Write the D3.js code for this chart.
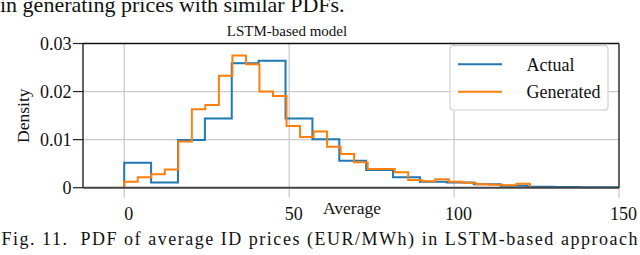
<!DOCTYPE html>
<html>
<head>
<meta charset="utf-8">
<script src="https://cdn.jsdelivr.net/npm/d3@7/dist/d3.min.js"></script>
<style>
  html, body { margin: 0; padding: 0; background: #fff; }
  svg { display: block; }
  text { font-family: "Liberation Serif", "Times New Roman", serif; fill: #111; }
</style>
</head>
<body>
<svg id="chart" width="640" height="255"></svg>
<script>
// ---- data ----
const actualEdges = [0, 8.15, 16.3, 24.45, 32.6, 40.75, 48.9, 57.05, 65.2, 73.35, 81.5,
  89.65, 97.8, 105.95, 114.1, 122.25, 130.4, 138.55, 146.7, 154.85, 163];
const actualDensity = [0.0052, 0.0011, 0.0099, 0.0144, 0.0259, 0.0264, 0.0144, 0.0101,
  0.0056, 0.0037, 0.0022, 0.00125, 0.0011, 0.0007, 0.0004, 0.0002, 0.00015, 0.0001, 0.0001, 0.0001];

const generatedEdges = [0, 4.1, 8.2, 12.3, 16.4, 20.5, 24.6, 28.7, 32.8, 36.9, 41, 45.1,
  49.2, 53.3, 57.4, 61.5, 65.6, 69.7, 73.8, 77.9, 82, 86.1, 90.2, 94.3, 98.4, 102.5,
  106.6, 110.7, 114.8, 118.9, 123];
const generatedDensity = [0.00125, 0.0022, 0.0028, 0.0038, 0.0096, 0.0163, 0.0172, 0.0233,
  0.0275, 0.0257, 0.0200, 0.0191, 0.01285, 0.01056, 0.0117, 0.0085, 0.0070, 0.0053,
  0.0039, 0.0039, 0.0032, 0.0016, 0.00135, 0.00175, 0.00125, 0.00105, 0.0007, 0.0006,
  0.0005, 0.0008];

const xTicks = [0, 50, 100, 150];
const yTicks = [0, 0.01, 0.02, 0.03];
const yTickLabels = ["0", "0.01", "0.02", "0.03"];
const seriesNames = ["Actual", "Generated"];
const titleText = "LSTM-based model";
const xLabel = "Average";
const yLabel = "Density";
const headerText = "in generating prices with similar PDFs.";
const captionText = "Fig. 11.\u00A0\u00A0PDF of average ID prices (EUR/MWh) in LSTM-based approach";

// ---- layout ----
const svg = d3.select("#chart");
const L = 83, R = 619, T = 43.5, B = 187.7;
const x = d3.scaleLinear().domain([-12.5, 150]).range([L, R]);
const y = d3.scaleLinear().domain([0, 0.03]).range([B, T]);
const colors = ["#1f77b4", "#ff7f0e"];

// header (cut-off text from page above)
svg.append("text").attr("x", 0).attr("y", 11.5)
  .attr("font-size", 22).text(headerText);

// grid
const grid = svg.append("g");
grid.selectAll("line.gx").data(xTicks.filter(t => t < 150)).join("line")
  .attr("x1", d => x(d)).attr("x2", d => x(d)).attr("y1", T).attr("y2", B)
  .attr("stroke", "#c9c9c9").attr("stroke-width", 1.2);
grid.selectAll("line.gy").data(yTicks.filter(t => t > 0 && t < 0.03)).join("line")
  .attr("x1", L).attr("x2", R).attr("y1", d => y(d)).attr("y2", d => y(d))
  .attr("stroke", "#c9c9c9").attr("stroke-width", 1.2);

// x ticks (gray, downward)
svg.selectAll("line.xt").data(xTicks).join("line")
  .attr("x1", d => x(d)).attr("x2", d => x(d)).attr("y1", B).attr("y2", B + 10)
  .attr("stroke", "#c9c9c9").attr("stroke-width", 1.2);
svg.selectAll("text.xtl").data(xTicks).join("text")
  .attr("x", d => x(d) + 4.5).attr("y", 220)
  .attr("text-anchor", "middle").attr("font-size", 18).text(d => d);

// y ticks (dark, left)
svg.selectAll("line.yt").data(yTicks).join("line")
  .attr("x1", L - 10).attr("x2", L).attr("y1", d => y(d)).attr("y2", d => y(d))
  .attr("stroke", "#222").attr("stroke-width", 1.2);
svg.selectAll("text.ytl").data(yTicks).join("text")
  .attr("x", 71.5).attr("y", d => y(d)).attr("dy", "0.35em")
  .attr("text-anchor", "end").attr("font-size", 18)
  .text((d, i) => yTickLabels[i]);

// clip
svg.append("clipPath").attr("id", "plotclip").append("rect")
  .attr("x", L).attr("y", T - 2).attr("width", R - L).attr("height", B - T + 4);

// step histograms
function stepPoints(edges, dens) {
  const pts = [[edges[0], 0]];
  dens.forEach((d, i) => { pts.push([edges[i], d]); pts.push([edges[i + 1], d]); });
  pts.push([edges[edges.length - 1], 0]);
  return pts;
}
const line = d3.line().x(d => x(d[0])).y(d => y(d[1]));
const plot = svg.append("g").attr("clip-path", "url(#plotclip)");
[[actualEdges, actualDensity], [generatedEdges, generatedDensity]].forEach((s, i) => {
  plot.append("path").attr("d", line(stepPoints(s[0], s[1])))
    .attr("fill", "none").attr("stroke", colors[i]).attr("stroke-width", 2)
    .attr("stroke-linejoin", "miter");
});

// spines
svg.append("line").attr("x1", L).attr("x2", R).attr("y1", T).attr("y2", T)
  .attr("stroke", "#111").attr("stroke-width", 1.3);
svg.append("line").attr("x1", R).attr("x2", R).attr("y1", T).attr("y2", B)
  .attr("stroke", "#111").attr("stroke-width", 1.3);
svg.append("line").attr("x1", L).attr("x2", L).attr("y1", T).attr("y2", B)
  .attr("stroke", "#111").attr("stroke-width", 1.3);
svg.append("line").attr("x1", L).attr("x2", R).attr("y1", B).attr("y2", B)
  .attr("stroke", "#444").attr("stroke-width", 2);

// legend
const lg = svg.append("g");
lg.append("rect").attr("x", 450).attr("y", 45.7).attr("width", 158).attr("height", 64.3)
  .attr("rx", 3).attr("fill", "#fff").attr("fill-opacity", 0.85)
  .attr("stroke", "#d0d0d0").attr("stroke-width", 1.2);
seriesNames.forEach((n, i) => {
  const yy = [64.3, 91.7][i];
  lg.append("line").attr("x1", 458).attr("x2", 502).attr("y1", yy).attr("y2", yy)
    .attr("stroke", colors[i]).attr("stroke-width", 2);
  lg.append("text").attr("x", 526.5).attr("y", yy).attr("dy", "0.35em")
    .attr("font-size", 18).text(n);
});

// title & labels
svg.append("text").attr("x", 287).attr("y", 36).attr("text-anchor", "middle")
  .attr("font-size", 15).text(titleText);
svg.append("text").attr("x", 352).attr("y", 214).attr("text-anchor", "middle")
  .attr("font-size", 17.5).text(xLabel);
svg.append("text").attr("transform", "translate(28.5,115.7) rotate(-90)")
  .attr("text-anchor", "middle").attr("font-size", 17.5).text(yLabel);

// caption
svg.append("text").attr("x", 1.5).attr("y", 245).attr("font-size", 18)
  .attr("textLength", 636).attr("lengthAdjust", "spacing").text(captionText);
</script>
</body>
</html>
